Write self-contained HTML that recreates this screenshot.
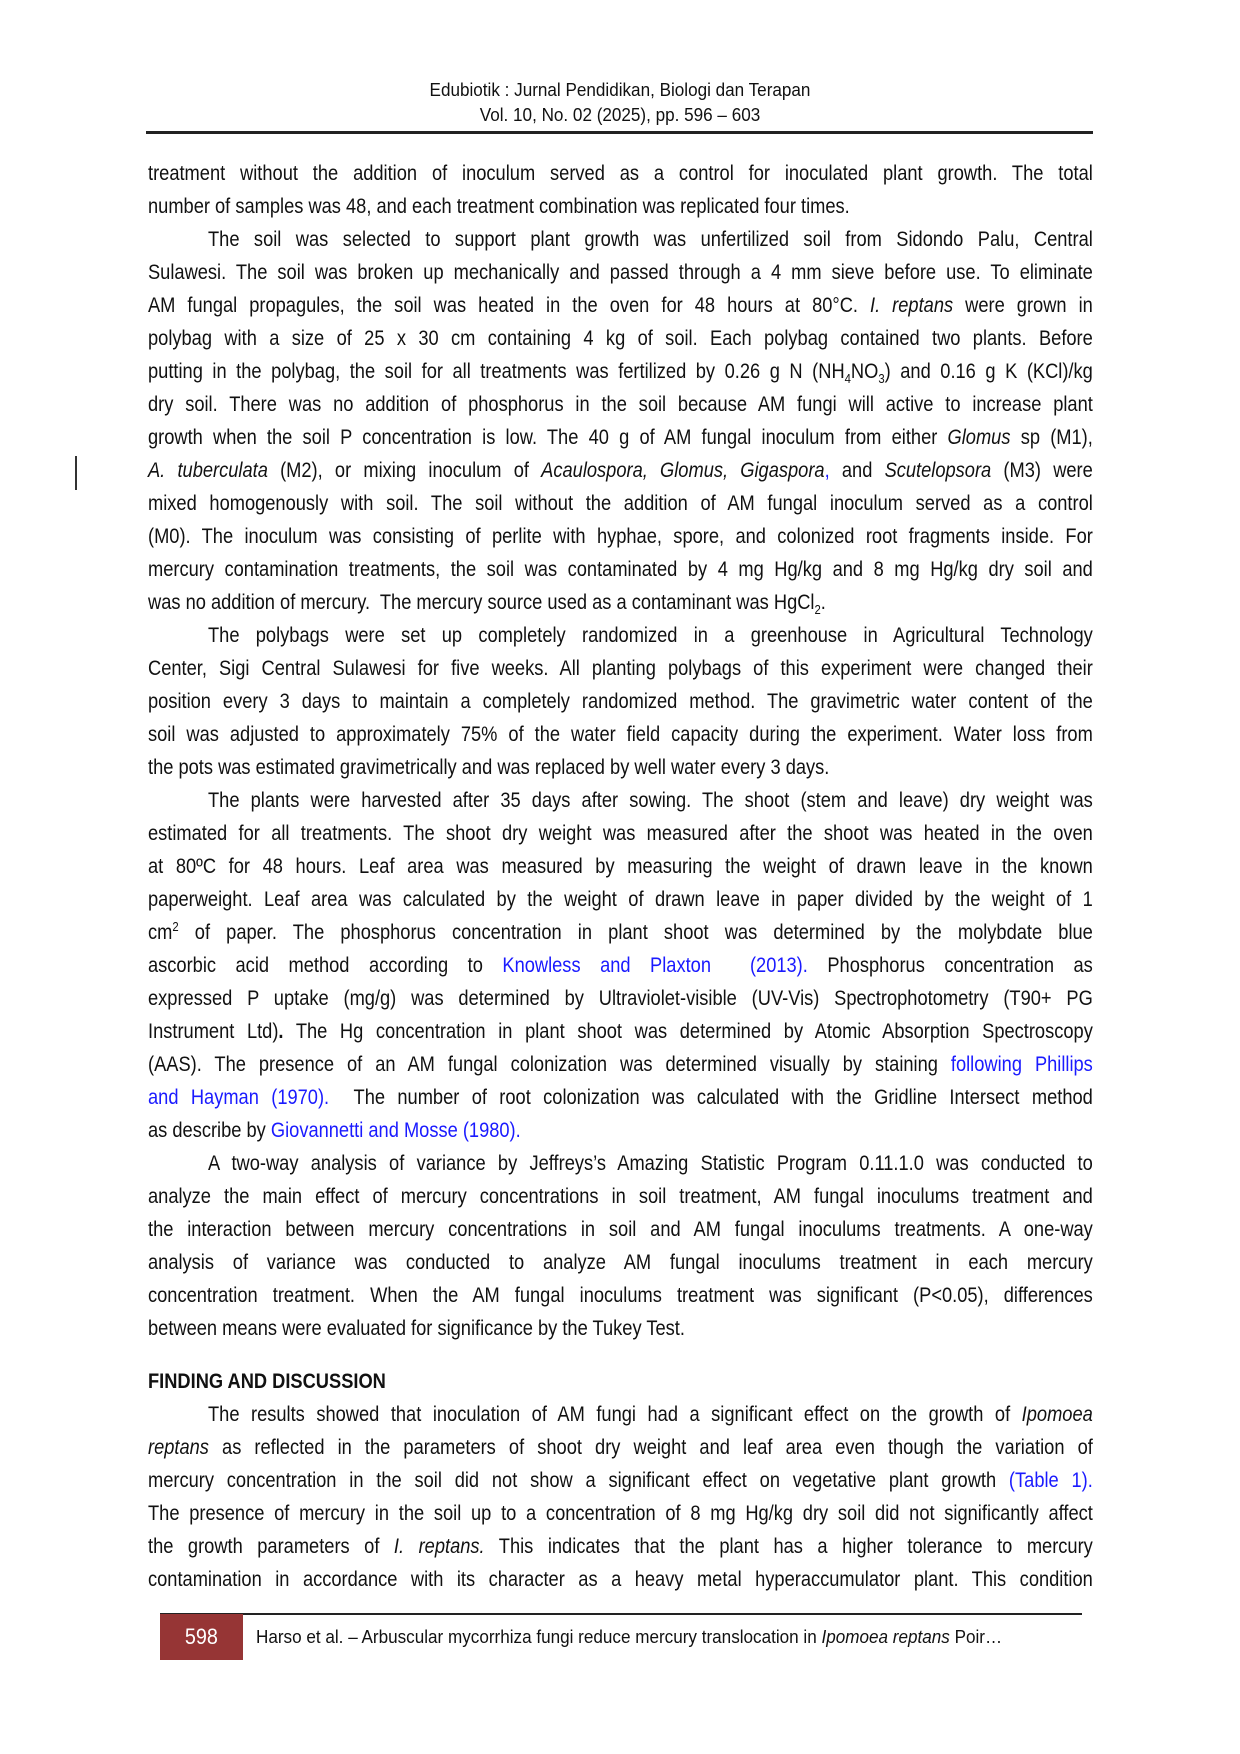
<!DOCTYPE html>
<html><head><meta charset="utf-8"><style>
body{margin:0;background:#fff;}
.pg{position:relative;width:1240px;height:1754px;overflow:hidden;font-family:"Liberation Sans",Arial,sans-serif;color:#111;}
.h{position:absolute;left:0;width:1240px;text-align:center;font-size:18px;transform:scaleX(.95);transform-origin:620px 0;}
.l{position:absolute;left:148px;height:30px;line-height:30px;font-size:21px;white-space:nowrap;}
.l>div{width:1086px;transform:scaleX(.87);transform-origin:0 0;text-align:justify;text-align-last:justify;white-space:normal;}
.l.e>div{text-align-last:left;}
.l.i{left:208px}
.l.i>div{width:1017px}
a,.b{color:#1a1aff;text-decoration:none}
sub,sup{font-size:13px;line-height:0}
</style></head><body><div class="pg">
<div class="h" style="top:80px">Edubiotik : Jurnal Pendidikan, Biologi dan Terapan</div>
<div class="h" style="top:105px">Vol. 10, No. 02 (2025), pp. 596 – 603</div>
<div style="position:absolute;left:146px;top:131px;width:947px;height:3px;background:#222"></div>
<div style="position:absolute;left:75px;top:456px;width:2px;height:34px;background:#333"></div>

<div class="l" style="top:159px"><div>treatment without the addition of inoculum served as a control for inoculated plant growth. The total</div></div>
<div class="l e" style="top:192px"><div>number of samples was 48, and each treatment combination was replicated four times.</div></div>
<div class="l i" style="top:225px"><div>The soil was selected to support plant growth was unfertilized soil from Sidondo Palu, Central</div></div>
<div class="l" style="top:258px"><div>Sulawesi. The soil was broken up mechanically and passed through a 4 mm sieve before use. To eliminate</div></div>
<div class="l" style="top:291px"><div>AM fungal propagules, the soil was heated in the oven for 48 hours at 80°C. <i>I. reptans</i> were grown in</div></div>
<div class="l" style="top:324px"><div>polybag with a size of 25 x 30 cm containing 4 kg of soil. Each polybag contained two plants. Before</div></div>
<div class="l" style="top:357px"><div>putting in the polybag, the soil for all treatments was fertilized by 0.26 g N (NH<sub>4</sub>NO<sub>3</sub>) and 0.16 g K (KCl)/kg</div></div>
<div class="l" style="top:390px"><div>dry soil. There was no addition of phosphorus in the soil because AM fungi will active to increase plant</div></div>
<div class="l" style="top:423px"><div>growth when the soil P concentration is low. The 40 g of AM fungal inoculum from either <i>Glomus</i> sp (M1),</div></div>
<div class="l" style="top:456px"><div><i>A. tuberculata</i> (M2), or mixing inoculum of <i>Acaulospora, Glomus, Gigaspora</i><span class="b">,</span> and <i>Scutelopsora</i> (M3) were</div></div>
<div class="l" style="top:489px"><div>mixed homogenously with soil. The soil without the addition of AM fungal inoculum served as a control</div></div>
<div class="l" style="top:522px"><div>(M0). The inoculum was consisting of perlite with hyphae, spore, and colonized root fragments inside. For</div></div>
<div class="l" style="top:555px"><div>mercury contamination treatments, the soil was contaminated by 4 mg Hg/kg and 8 mg Hg/kg dry soil and</div></div>
<div class="l e" style="top:588px"><div>was no addition of mercury.&nbsp; The mercury source used as a contaminant was HgCl<sub>2</sub>.</div></div>
<div class="l i" style="top:621px"><div>The polybags were set up completely randomized in a greenhouse in Agricultural Technology</div></div>
<div class="l" style="top:654px"><div>Center, Sigi Central Sulawesi for five weeks. All planting polybags of this experiment were changed their</div></div>
<div class="l" style="top:687px"><div>position every 3 days to maintain a completely randomized method. The gravimetric water content of the</div></div>
<div class="l" style="top:720px"><div>soil was adjusted to approximately 75% of the water field capacity during the experiment. Water loss from</div></div>
<div class="l e" style="top:753px"><div>the pots was estimated gravimetrically and was replaced by well water every 3 days.</div></div>
<div class="l i" style="top:786px"><div>The plants were harvested after 35 days after sowing. The shoot (stem and leave) dry weight was</div></div>
<div class="l" style="top:819px"><div>estimated for all treatments. The shoot dry weight was measured after the shoot was heated in the oven</div></div>
<div class="l" style="top:852px"><div>at 80ºC for 48 hours. Leaf area was measured by measuring the weight of drawn leave in the known</div></div>
<div class="l" style="top:885px"><div>paperweight. Leaf area was calculated by the weight of drawn leave in paper divided by the weight of 1</div></div>
<div class="l" style="top:918px"><div>cm<sup>2</sup> of paper. The phosphorus concentration in plant shoot was determined by the molybdate blue</div></div>
<div class="l" style="top:951px"><div>ascorbic acid method according to <span class="b">Knowless and Plaxton&nbsp; (2013).</span> Phosphorus concentration as</div></div>
<div class="l" style="top:984px"><div>expressed P uptake (mg/g) was determined by Ultraviolet-visible (UV-Vis) Spectrophotometry (T90+ PG</div></div>
<div class="l" style="top:1017px"><div>Instrument Ltd)<b>.</b> The Hg concentration in plant shoot was determined by Atomic Absorption Spectroscopy</div></div>
<div class="l" style="top:1050px"><div>(AAS). The presence of an AM fungal colonization was determined visually by staining <span class="b">following Phillips</span></div></div>
<div class="l" style="top:1083px"><div><span class="b">and Hayman (1970).</span>&nbsp; The number of root colonization was calculated with the Gridline Intersect method</div></div>
<div class="l e" style="top:1116px"><div>as describe by <span class="b">Giovannetti and Mosse (1980).</span></div></div>
<div class="l i" style="top:1149px"><div>A two-way analysis of variance by Jeffreys’s Amazing Statistic Program 0.11.1.0 was conducted to</div></div>
<div class="l" style="top:1182px"><div>analyze the main effect of mercury concentrations in soil treatment, AM fungal inoculums treatment and</div></div>
<div class="l" style="top:1215px"><div>the interaction between mercury concentrations in soil and AM fungal inoculums treatments. A one-way</div></div>
<div class="l" style="top:1248px"><div>analysis of variance was conducted to analyze AM fungal inoculums treatment in each mercury</div></div>
<div class="l" style="top:1281px"><div>concentration treatment. When the AM fungal inoculums treatment was significant (P&lt;0.05), differences</div></div>
<div class="l e" style="top:1314px"><div>between means were evaluated for significance by the Tukey Test.</div></div>
<div class="l e" style="top:1367px"><div><b>FINDING AND DISCUSSION</b></div></div>
<div class="l i" style="top:1400px"><div>The results showed that inoculation of AM fungi had a significant effect on the growth of <i>Ipomoea</i></div></div>
<div class="l" style="top:1433px"><div><i>reptans</i> as reflected in the parameters of shoot dry weight and leaf area even though the variation of</div></div>
<div class="l" style="top:1466px"><div>mercury concentration in the soil did not show a significant effect on vegetative plant growth <span class="b">(Table 1).</span></div></div>
<div class="l" style="top:1499px"><div>The presence of mercury in the soil up to a concentration of 8 mg Hg/kg dry soil did not significantly affect</div></div>
<div class="l" style="top:1532px"><div>the growth parameters of <i>I. reptans.</i> This indicates that the plant has a higher tolerance to mercury</div></div>
<div class="l" style="top:1565px"><div>contamination in accordance with its character as a heavy metal hyperaccumulator plant. This condition</div></div>

<div style="position:absolute;left:160px;top:1613px;width:922px;height:2px;background:#222"></div>
<div style="position:absolute;left:160px;top:1614px;width:83px;height:46px;background:#963535;color:#fff;font-size:22px;line-height:46px;text-align:center"><span style="display:inline-block;transform:scaleX(.9)">598</span></div>
<div style="position:absolute;left:256px;top:1625px;font-size:18px;line-height:24px;white-space:nowrap;transform:scaleX(.95);transform-origin:0 0">Harso et al. – Arbuscular mycorrhiza fungi reduce mercury translocation in <i>Ipomoea reptans</i> Poir…</div>
</div></body></html>
